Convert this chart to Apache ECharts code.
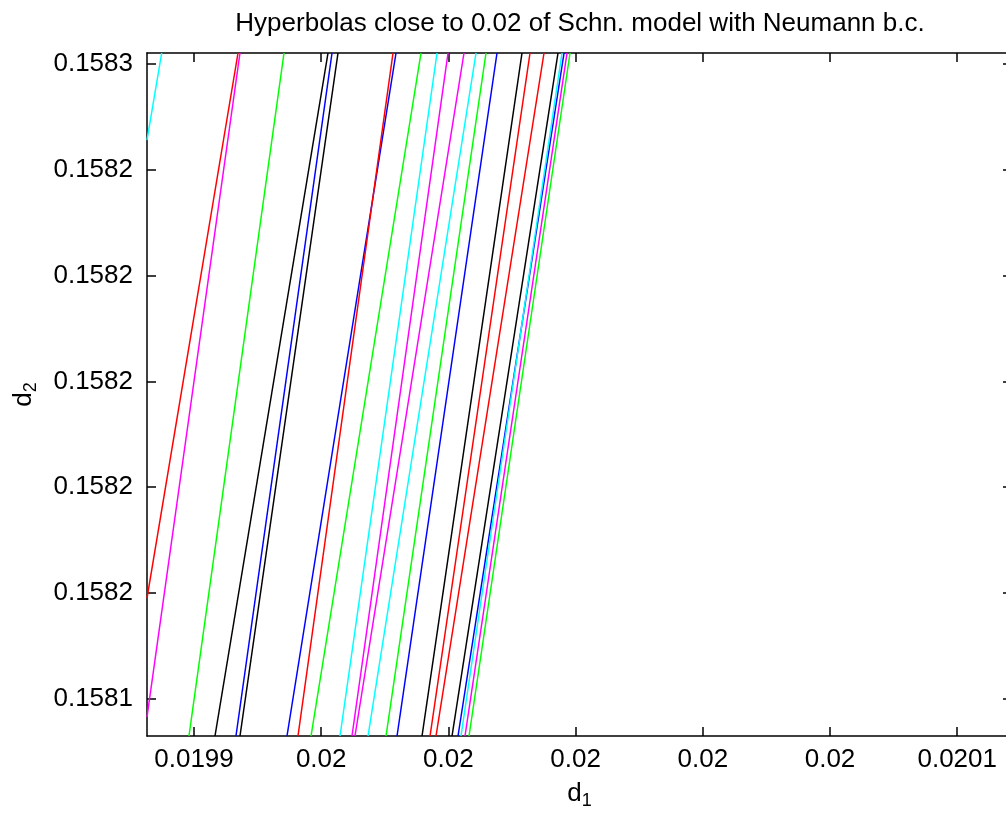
<!DOCTYPE html>
<html>
<head>
<meta charset="utf-8">
<script src="https://cdn.jsdelivr.net/npm/echarts@6/dist/echarts.min.js"></script>
<style>
html,body{margin:0;padding:0;background:#fff;}
#chart{width:1006px;height:813px;}
</style>
</head>
<body>
<div id="chart"></div>
<script>
// ---- data ----
const titleText = 'Hyperbolas close to 0.02 of Schn. model with Neumann b.c.';

// axis ranges
const d1Range = [0.01993261, 0.02006861];
const d2Range = [0.15813297, 0.15826208];

// tick values and tick labels
const d1Ticks = [0.01994, 0.01996, 0.01998, 0.02000, 0.02002, 0.02004, 0.02006];
const d1TickLabels = ['0.0199', '0.02', '0.02', '0.02', '0.02', '0.02', '0.0201'];
const d2Ticks = [0.15814, 0.15816, 0.15818, 0.15820, 0.15822, 0.15824, 0.15826];
const d2TickLabels = ['0.1581', '0.1582', '0.1582', '0.1582', '0.1582', '0.1582', '0.1583'];

// each curve: colour and its two visible end points (start = lower end, end = upper end)
const curveColors = ['c', 'r', 'm', 'g', 'k', 'b', 'k', 'b', 'r', 'g', 'c', 'm', 'm', 'c', 'g', 'b', 'k', 'r', 'r', 'k', 'b', 'c', 'm', 'g'];
const startD1 = [0.01993261, 0.01993261, 0.01993261, 0.01993921, 0.01994330, 0.01994660, 0.01994723, 0.01995462,
                 0.01995635, 0.01995840, 0.01996296, 0.01996484, 0.01996531, 0.01996736, 0.01997019, 0.01997192,
                 0.01997585, 0.01997711, 0.01997805, 0.01998057, 0.01998151, 0.01998198, 0.01998261, 0.01998324];
const startD2 = [0.15824563, 0.15815905, 0.15813656, 0.15813297, 0.15813297, 0.15813297, 0.15813297, 0.15813297,
                 0.15813297, 0.15813297, 0.15813297, 0.15813297, 0.15813297, 0.15813297, 0.15813297, 0.15813297,
                 0.15813297, 0.15813297, 0.15813297, 0.15813297, 0.15813297, 0.15813297, 0.15813297, 0.15813297];
const endD1 = [0.01993492, 0.01994692, 0.01994723, 0.01995415, 0.01996107, 0.01996170, 0.01996264, 0.01997176,
               0.01997129, 0.01997569, 0.01997821, 0.01997994, 0.01998245, 0.01998434, 0.01998591, 0.01998764,
               0.01999157, 0.01999283, 0.01999503, 0.01999723, 0.01999818, 0.01999786, 0.01999865, 0.01999912];
const endD2 = [0.15826208, 0.15826208, 0.15826208, 0.15826208, 0.15826208, 0.15826208, 0.15826208, 0.15826208,
               0.15826208, 0.15826208, 0.15826208, 0.15826208, 0.15826208, 0.15826208, 0.15826208, 0.15826208,
               0.15826208, 0.15826208, 0.15826208, 0.15826208, 0.15826208, 0.15826208, 0.15826208, 0.15826208];

// ---- styling ----
const colorMap = { r: '#ff0000', g: '#00ff00', b: '#0000ff', c: '#00ffff', m: '#ff00ff', k: '#000000' };
const FONT = "'Liberation Sans', Arial, sans-serif";

function labelFrom(ticks, labels) {
  return function (v) {
    let best = 0, bd = Infinity;
    ticks.forEach(function (t, i) { const d = Math.abs(t - v); if (d < bd) { bd = d; best = i; } });
    return labels[best];
  };
}

const axisLineStyle = { show: true, lineStyle: { color: '#000', width: 1.5 } };

const series = curveColors.map(function (c, i) {
  return {
    type: 'line',
    data: [[startD1[i], startD2[i]], [endD1[i], endD2[i]]],
    showSymbol: false,
    symbol: 'none',
    clip: true,
    silent: true,
    lineStyle: { color: colorMap[c], width: 1.5 },
    itemStyle: { color: colorMap[c] },
    xAxisIndex: 0,
    yAxisIndex: 0
  };
});

const chart = echarts.init(document.getElementById('chart'), null, { renderer: 'canvas' });
chart.setOption({
  animation: false,
  backgroundColor: '#fff',
  textStyle: { fontFamily: FONT },
  title: {
    text: titleText,
    left: 575,
    textAlign: 'center',
    top: 6,
    textStyle: { fontSize: 26, fontWeight: 'normal', color: '#000', fontFamily: FONT }
  },
  grid: { left: 147, right: -6, top: 53, bottom: 77, containLabel: false, outerBoundsMode: 'none' },
  xAxis: [
    {
      type: 'value', position: 'bottom',
      min: d1Range[0], max: d1Range[1],
      name: '{d|d}{s|1}', nameLocation: 'middle', nameGap: 40,
      nameTextStyle: {
        rich: {
          d: { fontSize: 26, color: '#000', fontFamily: FONT, lineHeight: 30 },
          s: { fontSize: 18, color: '#000', fontFamily: FONT, padding: [14, 0, 0, 0], lineHeight: 30 }
        }
      },
      axisLine: axisLineStyle,
      axisTick: { show: true, inside: true, length: 9, lineStyle: { color: '#000', width: 1.5 }, customValues: d1Ticks },
      axisLabel: { show: true, customValues: d1Ticks, formatter: labelFrom(d1Ticks, d1TickLabels), fontSize: 26, color: '#000', fontFamily: FONT, margin: 11 },
      splitLine: { show: false }
    },
    {
      type: 'value', position: 'top',
      min: d1Range[0], max: d1Range[1],
      axisLine: axisLineStyle,
      axisTick: { show: true, inside: true, length: 9, lineStyle: { color: '#000', width: 1.5 }, customValues: d1Ticks },
      axisLabel: { show: false, customValues: d1Ticks },
      splitLine: { show: false }
    }
  ],
  yAxis: [
    {
      type: 'value', position: 'left',
      min: d2Range[0], max: d2Range[1],
      name: '{d|d}{s|2}', nameLocation: 'middle', nameGap: 108, nameRotate: 90,
      nameTextStyle: {
        rich: {
          d: { fontSize: 26, color: '#000', fontFamily: FONT, lineHeight: 30 },
          s: { fontSize: 18, color: '#000', fontFamily: FONT, padding: [14, 0, 0, 0], lineHeight: 30 }
        }
      },
      axisLine: axisLineStyle,
      axisTick: { show: true, inside: true, length: 9, lineStyle: { color: '#000', width: 1.5 }, customValues: d2Ticks },
      axisLabel: { show: true, customValues: d2Ticks, formatter: labelFrom(d2Ticks, d2TickLabels), fontSize: 26, color: '#000', fontFamily: FONT, margin: 14 },
      splitLine: { show: false }
    },
    {
      type: 'value', position: 'right',
      min: d2Range[0], max: d2Range[1],
      axisLine: axisLineStyle,
      axisTick: { show: true, inside: true, length: 9, lineStyle: { color: '#000', width: 1.5 }, customValues: d2Ticks },
      axisLabel: { show: false, customValues: d2Ticks },
      splitLine: { show: false }
    }
  ],
  series: series
});
</script>
</body>
</html>
